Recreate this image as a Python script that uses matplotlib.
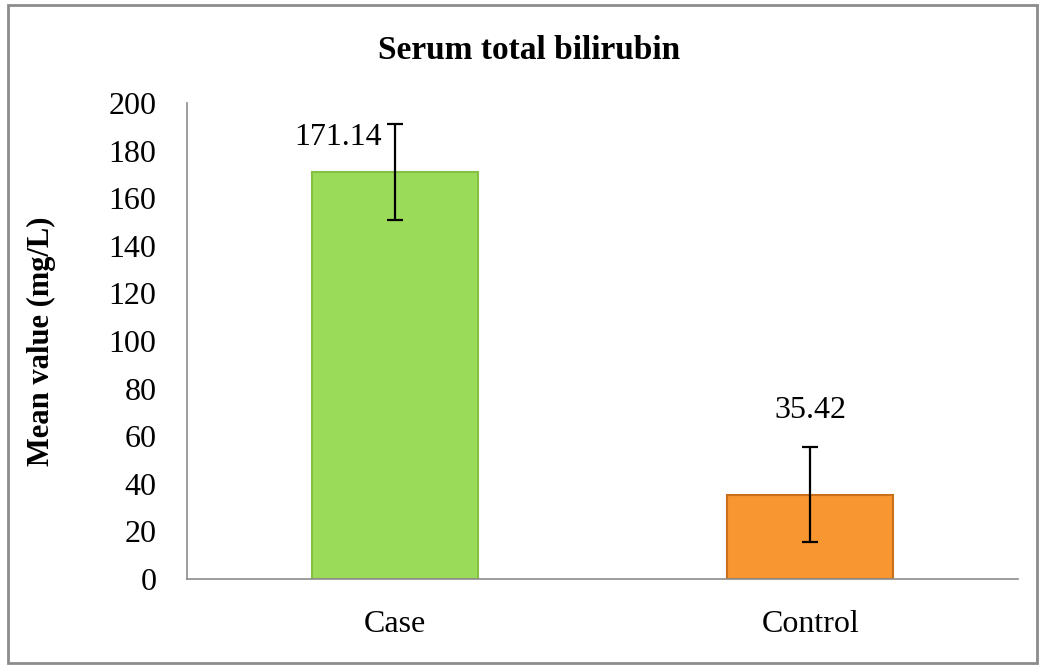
import matplotlib
matplotlib.use('Agg')
import matplotlib.pyplot as plt
from matplotlib.patches import Rectangle

groups = ['Case', 'Control']
means = [171.14, 35.42]
errors = [20.2, 20.0]
bar_colors = ['#9bdb5a', '#f8962f']
edge_colors = ['#84c043', '#c8701c']
yticks = [0, 20, 40, 60, 80, 100, 120, 140, 160, 180, 200]

plt.rcParams['font.family'] = ['Liberation Serif', 'DejaVu Serif']

fig = plt.figure(figsize=(10.41, 6.67), dpi=100)
ax = fig.add_axes([0.1796, 0.132, 0.7984, 0.7136])

x = range(len(groups))
ax.bar(x, means, width=0.4, color=bar_colors, edgecolor=edge_colors, linewidth=1.5, zorder=2)
ax.errorbar(x, means, yerr=errors, fmt='none', ecolor='black', elinewidth=1.6, capsize=6, capthick=1.6, zorder=3)

# value labels
ax.text(0 - 0.03, means[0] + 14.5, '%.2f' % means[0], ha='right', va='center', fontsize=23)
ax.text(1, means[1] + 35.5, '%.2f' % means[1], ha='center', va='center', fontsize=23)

ax.set_xlim(-0.5, 1.5)
ax.set_ylim(0, 200)
ax.set_xticks(list(x))
ax.set_xticklabels(groups, fontsize=23)
ax.set_yticks(yticks)
ax.set_yticklabels([str(v) for v in yticks], fontsize=23)
ax.tick_params(axis='x', length=0, pad=22)
ax.tick_params(axis='y', length=0, pad=22)
for s in ['top', 'right']:
    ax.spines[s].set_visible(False)
for s in ['left', 'bottom']:
    ax.spines[s].set_color('#8c8c8c')
    ax.spines[s].set_linewidth(1.2)

ax.set_ylabel('Mean value (mg/L)', fontsize=22, fontweight='bold')
ax.yaxis.set_label_coords(-0.158, 0.5)
fig.text(0.508, 0.925, 'Serum total bilirubin', ha='center', va='center', fontsize=24, fontweight='bold')

# outer chart border
fig.patches.append(Rectangle((0.008, 0.006), 0.988, 0.986, transform=fig.transFigure,
                             fill=False, edgecolor='#8c8c8c', linewidth=2))

fig.savefig('out.png', dpi=100)
